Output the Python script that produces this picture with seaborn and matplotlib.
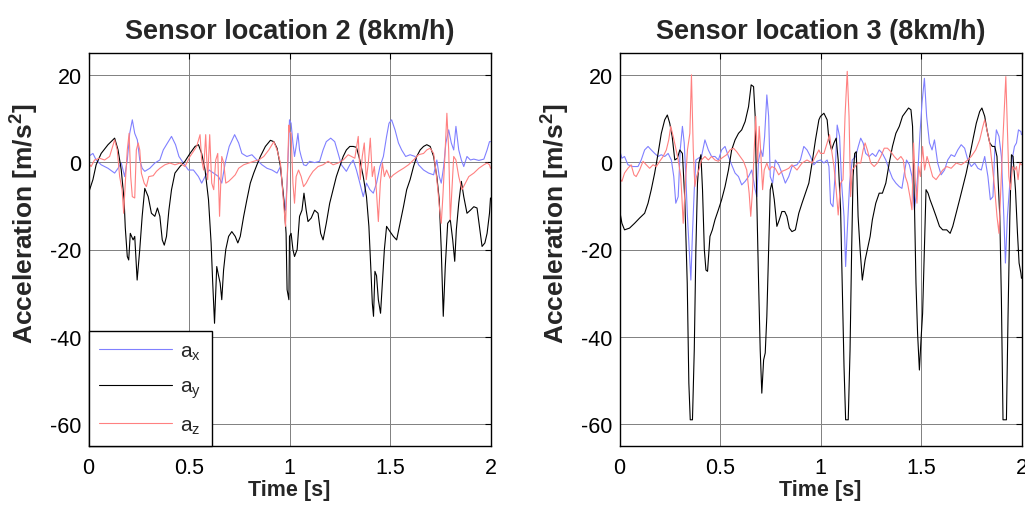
import numpy as np
import pandas as pd
import matplotlib
matplotlib.use("Agg")
import matplotlib.pyplot as plt
import seaborn as sns

# ---- sensor location 2 ----
t_ax2 = [0.000, 0.022, 0.038, 0.063, 0.097, 0.130, 0.147, 0.163, 0.180, 0.193, 0.205, 0.218, 0.230, 0.243, 0.255, 0.267,
         0.280, 0.305, 0.330, 0.355, 0.372, 0.393, 0.413, 0.433, 0.450, 0.472, 0.497, 0.522, 0.547, 0.563, 0.580, 0.600,
         0.622, 0.647, 0.663, 0.680, 0.700, 0.727, 0.747, 0.763, 0.788, 0.813, 0.838, 0.863, 0.888, 0.913, 0.938, 0.955,
         0.972, 0.980, 0.988, 0.997, 1.000, 1.008, 1.017, 1.025, 1.033, 1.042, 1.050, 1.058, 1.070, 1.083, 1.100, 1.125,
         1.150, 1.167, 1.183, 1.205, 1.225, 1.242, 1.258, 1.283, 1.300, 1.317, 1.333, 1.350, 1.367, 1.383, 1.400, 1.417,
         1.433, 1.450, 1.467, 1.483, 1.495, 1.508, 1.525, 1.542, 1.558, 1.578, 1.600, 1.625, 1.642, 1.667, 1.692, 1.717,
         1.733, 1.745, 1.755, 1.767, 1.778, 1.792, 1.805, 1.817, 1.828, 1.842, 1.855, 1.867, 1.883, 1.900, 1.917, 1.942,
         1.967, 1.983, 1.995, 2.000]
ax2 = [1.3, 2, 0.5, -0.6, -1.4, -2.5, -1.4, -0.2, -3.3, 0.5, 6.6, 9.7, 6.6, 5.1, 0.5, -1.4,
       -2.1, -1.4, -0.2, 0.5, 2.8, 4.4, 5.9, 4, 1.3, -0.2, -1.8, -1.8, -3.3, -4.8, -3.3, -1.8,
       -2.5, -3.3, -4.8, -0.2, 3.6, 6.3, 4.4, 2, 1.3, 1.7, 0.5, -0.6, -1.4, -1.8, -2.5, -1,
       -9.4, -11, -4.8, 5.9, 9.7, 8.9, 4.4, 1.3, 3.6, 6.6, 2.8, 1.3, -0.6, -0.8, 0.2, -0.1,
       0.2, 2.8, 4.7, 5.5, 4.7, 2, -0.6, -2.1, -0.6, 0.5, -1.8, -4.8, -7.9, -4.8, -6.3, -7.1,
       -4.8, -1, 1.3, 5.9, 8.9, 9.7, 7.4, 4.4, 2.8, 1.3, 1.7, 1.3, -0.6, -1.8, -2.5, -2.9,
       0.5, -3.3, -4.8, -1, 4.4, 7.4, 4.4, 2.8, 8.2, 2.8, 0.5, -1, 1.3, 0.5, 0.7, 0.4,
       0.7, 2.8, 4.7, 4.7]

t_ay2 = [0.000, 0.022, 0.038, 0.063, 0.097, 0.130, 0.147, 0.163, 0.177, 0.183, 0.193, 0.200, 0.208, 0.222, 0.230, 0.242,
         0.255, 0.267, 0.280, 0.297, 0.313, 0.330, 0.343, 0.355, 0.367, 0.377, 0.388, 0.400, 0.413, 0.430, 0.455, 0.480,
         0.505, 0.530, 0.547, 0.563, 0.580, 0.597, 0.610, 0.618, 0.627, 0.638, 0.647, 0.655, 0.663, 0.672, 0.683, 0.697,
         0.713, 0.730, 0.743, 0.755, 0.772, 0.788, 0.805, 0.822, 0.838, 0.855, 0.880, 0.905, 0.922, 0.938, 0.955, 0.972,
         0.983, 0.988, 0.997, 1.000, 1.008, 1.017, 1.025, 1.038, 1.050, 1.062, 1.072, 1.083, 1.092, 1.108, 1.125, 1.142,
         1.155, 1.167, 1.183, 1.200, 1.217, 1.233, 1.250, 1.267, 1.283, 1.300, 1.317, 1.333, 1.350, 1.367, 1.383, 1.395,
         1.405, 1.412, 1.418, 1.425, 1.433, 1.442, 1.453, 1.462, 1.472, 1.483, 1.500, 1.517, 1.533, 1.550, 1.567, 1.583,
         1.600, 1.617, 1.633, 1.650, 1.667, 1.683, 1.700, 1.717, 1.733, 1.745, 1.755, 1.765, 1.775, 1.787, 1.800, 1.812,
         1.822, 1.830, 1.842, 1.855, 1.867, 1.883, 1.900, 1.917, 1.933, 1.947, 1.958, 1.972, 1.983, 1.995, 2.000]
ay2 = [-7.1, -4, -0.6, 2, 4, 5.5, 2.8, -1.8, -8.6, -15, -21.6, -22.4, -16.3, -17.8, -17, -27,
       -20, -12.4, -6, -7.9, -11.7, -12.4, -10.5, -12.4, -17.8, -19, -17, -11, -6.3, -2.5, -1, 0.2,
       2, 3.6, 4, 2, -1.8, -8.6, -18.5, -27.7, -36.9, -23.9, -26, -27.7, -31.5, -24.7, -20, -17,
       -15.9, -17, -18.5, -17, -12.4, -8.6, -4.8, -2.5, -0.6, 1.3, 3.6, 5, 4.7, 3.2, -1, -8.6,
       -16.3, -29.2, -31.5, -17, -16.3, -20, -21.6, -20, -12.4, -11, -7.1, -11, -13.6, -12.8, -11, -11.7,
       -16.3, -17.8, -14, -9.4, -6.3, -3.3, -1, 1.3, 2.8, 3.6, 3.6, 3.4, 0.5, -3.3, -7.9, -14.7,
       -24.7, -32.3, -35.3, -25, -26, -31.5, -34.6, -27.7, -20, -14.7, -15.9, -17, -17.8, -14, -10.2, -6.3,
       -4, -1, 1.3, 2.8, 3.6, 4, 3.6, 1.3, -3.3, -8.6, -20, -35.3, -23.9, -14, -13.2, -17.8,
       -22.7, -15.5, -9.4, -4.4, -7.9, -11.7, -11, -10.2, -10.5, -15.5, -19.3, -18.5, -16.3, -11.7, -8.2]

t_az2 = [0.000, 0.013, 0.030, 0.055, 0.080, 0.105, 0.130, 0.143, 0.155, 0.167, 0.175, 0.183, 0.193, 0.202, 0.210, 0.218,
         0.230, 0.238, 0.247, 0.255, 0.263, 0.277, 0.288, 0.300, 0.322, 0.338, 0.355, 0.380, 0.405, 0.430, 0.455, 0.480,
         0.505, 0.527, 0.538, 0.555, 0.563, 0.573, 0.583, 0.593, 0.603, 0.613, 0.623, 0.633, 0.643, 0.652, 0.663, 0.673,
         0.683, 0.697, 0.713, 0.730, 0.747, 0.772, 0.797, 0.822, 0.847, 0.872, 0.897, 0.922, 0.938, 0.955, 0.972, 0.980,
         0.988, 0.997, 1.000, 1.008, 1.017, 1.025, 1.033, 1.045, 1.058, 1.070, 1.083, 1.100, 1.117, 1.142, 1.167, 1.192,
         1.217, 1.242, 1.267, 1.292, 1.308, 1.325, 1.342, 1.352, 1.362, 1.372, 1.382, 1.392, 1.402, 1.412, 1.422, 1.432,
         1.442, 1.452, 1.462, 1.472, 1.483, 1.500, 1.517, 1.542, 1.567, 1.592, 1.617, 1.642, 1.667, 1.683, 1.700, 1.717,
         1.728, 1.738, 1.747, 1.755, 1.763, 1.773, 1.783, 1.792, 1.800, 1.808, 1.817, 1.828, 1.842, 1.858, 1.875, 1.892,
         1.917, 1.942, 1.967, 1.983, 1.995, 2.000]
az2 = [-0.2, -1, 0.5, 0.9, 0.5, 1.3, 5.1, 2.8, -3.3, -6.3, -11.7, -4.8, 2.8, 6.6, -3.3, -7.9,
       -8.2, 2.8, 4.4, 2.8, -2.5, -4.8, -5.6, -3.3, -3.1, -2.1, -1.4, -0.6, -0.2, -0.6, -0.2, -1,
       1.3, 2.8, 3.6, 6.3, 0.5, -1.8, 6.3, -4, 6.3, -4.8, -6.3, 0.5, 2, -12.4, 1.3, -0.2,
       -4.8, -4.4, -3.7, -2.9, -1.4, -0.6, -0.2, 0.2, 0.5, 1.3, 2.8, 4.7, 2.8, -0.2, -10.2, -14.7,
       -4.8, 8.5, 7, 6.6, -4.8, -9.4, -3.3, -1.8, -3.3, -5.6, -4.8, -3.3, -2.1, -1, -0.6, 0.2,
       -0.6, -0.2, 0.5, 1.7, 1.3, 0.9, 5.9, -4, 1.3, 4.4, -4, -0.2, 5.5, -3.3, -1, -6.3,
       -13.6, -4.8, -0.2, -3.3, -1.8, -3.7, -2.9, -2.1, -1.4, -0.6, 0.5, 1.7, 2, 2.8, 3.2, 2,
       -1.8, -6.3, -10.9, -14, -7.9, 1.3, 11.2, 2.8, -13.2, -6.3, 1.3, 0.5, -3.3, -6.3, -4.8, -3.3,
       -2.5, -1.4, -0.6, -0.2, -0.6, -1.4]

# ---- sensor location 3 ----
t_ax3 = [0.000, 0.012, 0.025, 0.042, 0.067, 0.092, 0.108, 0.125, 0.142, 0.158, 0.175, 0.192, 0.208, 0.225, 0.242, 0.258,
         0.270, 0.280, 0.292, 0.302, 0.313, 0.322, 0.330, 0.338, 0.347, 0.355, 0.363, 0.372, 0.380, 0.392, 0.408, 0.425,
         0.442, 0.458, 0.475, 0.492, 0.508, 0.525, 0.542, 0.558, 0.575, 0.592, 0.608, 0.625, 0.642, 0.658, 0.675, 0.683,
         0.692, 0.703, 0.713, 0.722, 0.733, 0.742, 0.750, 0.762, 0.775, 0.792, 0.808, 0.825, 0.842, 0.858, 0.883, 0.900,
         0.917, 0.933, 0.950, 0.967, 0.983, 1.000, 1.017, 1.033, 1.042, 1.050, 1.062, 1.072, 1.083, 1.095, 1.105, 1.117,
         1.125, 1.135, 1.145, 1.158, 1.175, 1.188, 1.200, 1.212, 1.225, 1.242, 1.258, 1.275, 1.292, 1.308, 1.325, 1.342,
         1.358, 1.375, 1.392, 1.405, 1.417, 1.428, 1.442, 1.455, 1.467, 1.475, 1.483, 1.495, 1.505, 1.517, 1.528, 1.542,
         1.555, 1.567, 1.583, 1.600, 1.617, 1.633, 1.650, 1.667, 1.683, 1.700, 1.717, 1.733, 1.750, 1.767, 1.783, 1.800,
         1.817, 1.833, 1.845, 1.858, 1.867, 1.875, 1.888, 1.900, 1.912, 1.920, 1.930, 1.942, 1.953, 1.965, 1.975, 1.985,
         1.997, 2.000]
ax3 = [2.8, 0.9, 1.3, -0.6, -1, -1, 0.5, 2.8, 3.6, 2.8, 2, 1.3, 1.7, 1.3, 2, 0.5,
       -3.3, -9.4, -7.9, 2.8, 8.2, 4.4, -3.3, -12.4, -20, -27, -16.3, -6.3, 0.5, 0.9, 1.3, 5.1,
       2.8, 1.3, 1.3, 0.5, 2.8, 3.6, 1.3, -0.6, -2.5, -3.3, -5.2, -4.4, -3.3, -1.8, -6.3, -7.9,
       0.5, 2.8, 1.3, 5.9, 15.4, 10.5, -3.3, -4.8, 0.5, -0.6, -2.5, -4.8, -3.3, -1, -0.6, 0.5,
       3.6, 2.8, 1.3, -0.6, 0.2, 0.5, -0.2, 0.5, -1, -9.4, -10.2, -3.3, 8.5, 5.9, -4.8, -12.4,
       -23.9, -14, -4.8, 0.5, 1.3, 3.6, 5.5, 4.4, 2, 1.3, 2, 1.3, 2.8, 2, 0.5, -1.8,
       -3.7, -4.8, -5.6, -6, -2.5, 0.5, -0.6, -3.3, -10.9, -7.9, -3.3, 6.6, 13.5, 19.2, 10.5, 4.4,
       2.8, 5.1, -0.2, -2.9, -1.8, 0.5, 1.7, 1.3, 2.8, 4, 3.2, 0.5, -1, -0.2, -1.4, -1.8,
       1.3, -3.3, -8.6, -7.9, 2.8, 7.4, 5.9, 1.3, -12.4, -23.1, -12.4, -4.8, 0.5, 3.6, 4.4, 7.4,
       7, 6.3]

t_ay3 = [0.000, 0.012, 0.025, 0.050, 0.075, 0.100, 0.125, 0.142, 0.158, 0.175, 0.192, 0.208, 0.225, 0.238, 0.250, 0.262,
         0.275, 0.288, 0.300, 0.313, 0.325, 0.337, 0.345, 0.352, 0.363, 0.372, 0.380, 0.388, 0.395, 0.405, 0.413, 0.422,
         0.430, 0.438, 0.450, 0.462, 0.475, 0.492, 0.508, 0.525, 0.542, 0.558, 0.575, 0.592, 0.608, 0.625, 0.642, 0.655,
         0.667, 0.675, 0.683, 0.692, 0.700, 0.708, 0.717, 0.725, 0.733, 0.742, 0.750, 0.758, 0.770, 0.783, 0.795, 0.808,
         0.822, 0.833, 0.845, 0.858, 0.875, 0.892, 0.908, 0.925, 0.942, 0.958, 0.975, 0.992, 1.000, 1.017, 1.033, 1.042,
         1.055, 1.067, 1.078, 1.088, 1.100, 1.108, 1.117, 1.125, 1.138, 1.147, 1.155, 1.162, 1.170, 1.178, 1.187, 1.197,
         1.208, 1.222, 1.233, 1.247, 1.258, 1.275, 1.292, 1.308, 1.325, 1.342, 1.358, 1.375, 1.392, 1.408, 1.425, 1.438,
         1.450, 1.458, 1.467, 1.475, 1.483, 1.492, 1.500, 1.508, 1.517, 1.525, 1.535, 1.545, 1.558, 1.575, 1.592, 1.608,
         1.628, 1.645, 1.658, 1.675, 1.692, 1.708, 1.725, 1.742, 1.758, 1.775, 1.792, 1.803, 1.817, 1.828, 1.842, 1.855,
         1.867, 1.878, 1.892, 1.900, 1.908, 1.925, 1.933, 1.942, 1.950, 1.958, 1.970, 1.980, 1.988, 1.997, 2.000]
ay3 = [-10.9, -14, -15.5, -15.1, -14, -12.8, -11.7, -9.4, -6.3, -2.5, 2, 6.6, 9.7, 10.8, 8.9, 5.9,
       0.5, 0.9, 2.8, 2, -8.6, -27.7, -50.6, -59, -59, -43, -20, -4.8, -0.2, 1.7, -6.3, -20,
       -24.7, -25, -17, -15.5, -13.2, -10.9, -8.6, -5.6, -1.8, 2.8, 5.1, 6.6, 7.4, 9.3, 12.7, 17.7,
       17.3, 10.5, -8.6, -27.7, -43, -52.9, -45.3, -43.7, -35.3, -20, -6.3, -4.8, -8.6, -14.7, -13.2, -11.3,
       -11.3, -12.4, -15.1, -15.9, -15.5, -11.7, -9.4, -7.1, -4.8, -0.2, 5.1, 9.7, 10.5, 11.2, 9.7, 5.1,
       2.8, 4.4, 5.5, 0.5, -10.9, -27.7, -46.8, -59, -59, -43, -20, -3.3, 2, 2.4, -12.4, -20,
       -27, -22.4, -20, -17, -13.2, -9.4, -7.1, -7.1, -4.8, -0.2, 3.6, 6.6, 8.2, 10.5, 11.6, 12.4,
       12, 8.2, -8.6, -27.7, -39.2, -47.6, -40.7, -34.6, -20, -6.3, -7.1, -8.6, -10.2, -12.4, -14.7, -15.5,
       -15.5, -16.3, -14.7, -11.7, -8.6, -5.6, -2.5, 1.3, 5.1, 8.9, 11.6, 12.4, 10.5, 7.4, 4.4, 3.6,
       3.6, 1.3, -12.4, -31.5, -59, -59, -35.3, -12.4, 1.7, 1.3, -6.3, -16.3, -23.1, -25.4, -26.6]

t_az3 = [0.000, 0.012, 0.025, 0.042, 0.058, 0.072, 0.083, 0.100, 0.117, 0.133, 0.150, 0.167, 0.183, 0.200, 0.217, 0.233,
         0.245, 0.255, 0.267, 0.278, 0.292, 0.305, 0.317, 0.328, 0.338, 0.350, 0.358, 0.367, 0.375, 0.383, 0.395, 0.408,
         0.425, 0.442, 0.458, 0.475, 0.492, 0.508, 0.533, 0.550, 0.567, 0.583, 0.600, 0.617, 0.633, 0.645, 0.653, 0.662,
         0.670, 0.678, 0.687, 0.695, 0.703, 0.712, 0.720, 0.733, 0.745, 0.758, 0.775, 0.792, 0.808, 0.825, 0.842, 0.858,
         0.883, 0.908, 0.933, 0.958, 0.975, 0.992, 1.000, 1.017, 1.033, 1.045, 1.055, 1.067, 1.078, 1.088, 1.100, 1.112,
         1.122, 1.133, 1.142, 1.150, 1.158, 1.172, 1.183, 1.200, 1.212, 1.222, 1.233, 1.250, 1.267, 1.283, 1.300, 1.317,
         1.333, 1.350, 1.367, 1.383, 1.400, 1.412, 1.422, 1.433, 1.445, 1.455, 1.463, 1.472, 1.480, 1.488, 1.497, 1.508,
         1.518, 1.530, 1.542, 1.558, 1.575, 1.592, 1.608, 1.628, 1.650, 1.675, 1.700, 1.725, 1.750, 1.772, 1.792, 1.808,
         1.817, 1.828, 1.842, 1.855, 1.867, 1.878, 1.888, 1.897, 1.905, 1.913, 1.922, 1.928, 1.937, 1.945, 1.955, 1.967,
         1.975, 1.983, 1.992, 2.000]
az3 = [-3.7, -4.4, -2.5, -1.4, -0.6, -2.9, -3.3, -1.8, 0.2, -0.6, -1.4, -0.6, -1, 0.2, 1.3, 2.8,
       5.1, 8.2, 5.9, 3.6, 0.5, -3.3, -14, -4.8, 2.8, 6.6, 20, 2.8, -5.6, -3.3, -1.8, 0.5,
       1.3, 0.5, 1.3, 0.5, 0.2, 0.9, 1.7, 2.8, 3.2, 2.4, 1.3, 0.2, -1.8, -7.1, -12.4, -6.3,
       2.8, 10.5, -0.2, 8.2, 2, -6.3, -1.8, -0.2, -1.8, -1, -1.4, -2.9, -2.1, -1.8, -1.4, -0.6,
       -1.8, -0.2, 0.5, -0.2, 1.3, 2.8, 2, 2, 4.4, 6.3, 2.8, -1, -6.3, -12.1, -4.8, -4,
       10.5, 20.8, 10.5, -7.9, -1.8, -1, -0.2, -0.2, 2.8, 4.4, 2.8, -0.2, -1, -0.2, 1.3, 3.2,
       3.2, 2.4, 1.3, 0.5, 1.3, 0.5, -3.3, -4.8, -7.9, -10.9, 4.4, -4.8, -9.4, -1, -3.3, 3.6,
       -1.8, 1.3, -0.6, -3.3, -4, -2.9, -1.8, -1, -1.4, -0.2, -0.6, 0.2, 1.3, 2.8, 5.1, 8.2,
       9.7, 7.4, 4.4, -1, -6.3, -12.4, -16.3, -6.3, 2.8, 10.5, 19.6, 10.5, -3.3, -6.3, -1, -1.8,
       -1, -4, -0.2, -0.6]

titles = ["Sensor location 2 (8km/h)", "Sensor location 3 (8km/h)"]
labels = ["a$_\\mathregular{x}$", "a$_\\mathregular{y}$", "a$_\\mathregular{z}$"]
colors = ["#8080ff", "black", "#ff8080"]

sns.set_style("white")
plt.rcParams["font.family"] = ["Liberation Sans", "DejaVu Sans"]
plt.rcParams["mathtext.fontset"] = "custom"
plt.rcParams["mathtext.rm"] = "Liberation Sans"
plt.rcParams["mathtext.bf"] = "Liberation Sans:bold"
plt.rcParams["axes.unicode_minus"] = False

fig = plt.figure(figsize=(10.25, 5.06), dpi=100)
axes = [fig.add_axes([88.5 / 1025, 59 / 506, 402 / 1025, 393 / 506]),
        fig.add_axes([619.5 / 1025, 59 / 506, 402 / 1025, 393 / 506])]

panels = [[(t_ax2, ax2), (t_ay2, ay2), (t_az2, az2)],
          [(t_ax3, ax3), (t_ay3, ay3), (t_az3, az3)]]

for i, ax in enumerate(axes):
    for (t, v), c, lab in zip(panels[i], colors, labels):
        df = pd.DataFrame({"t": t, "v": v})
        sns.lineplot(data=df, x="t", y="v", ax=ax, color=c, lw=0.8, estimator=None,
                     sort=False, label=lab if i == 0 else None, legend=False)
    ax.set_xlim(0, 2)
    ax.set_ylim(-65, 25)
    ax.set_xticks([0, 0.5, 1, 1.5, 2])
    ax.set_xticklabels(["0", "0.5", "1", "1.5", "2"])
    ax.set_yticks([-60, -40, -20, 0, 20])
    ax.grid(True, color="#808080", lw=0.7)
    ax.set_axisbelow(True)
    ax.tick_params(direction="in", top=True, right=True, length=4, width=0.8,
                   labelsize=15.5, colors="black")
    ax.tick_params(axis="x", pad=8)
    ax.tick_params(axis="y", pad=5)
    for s in ax.spines.values():
        s.set_color("black")
        s.set_linewidth(1.0)
    ax.set_title(titles[i], fontsize=19.5, fontweight="bold", pad=11)
    ax.set_xlabel("Time [s]", fontsize=15.5, fontweight="bold", labelpad=1)
    ax.set_ylabel("Acceleration [m/s$^\\mathbf{2}$]", fontsize=19, fontweight="bold")
    ax.yaxis.set_label_coords(-0.12, 0.567)

leg = axes[0].legend(loc="lower left", bbox_to_anchor=(0, 0), borderaxespad=0, fontsize=15,
                     frameon=True, fancybox=False, edgecolor="black", framealpha=1,
                     handlelength=3.5, labelspacing=0.7, borderpad=0.5, handletextpad=0.4)
leg.get_frame().set_linewidth(1.0)

fig.savefig("out.png", dpi=100)
